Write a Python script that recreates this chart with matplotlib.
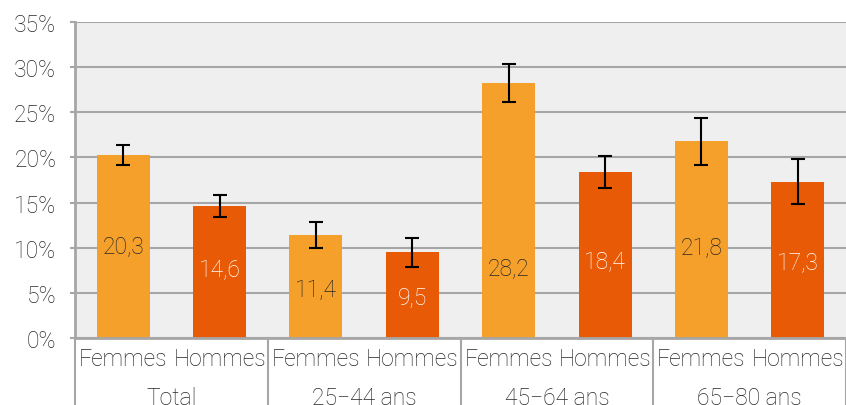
import matplotlib.pyplot as plt
import numpy as np

groups = ["Total", "25\u221244 ans", "45\u221264 ans", "65\u221280 ans"]
sexes = ["Femmes", "Hommes"]
femmes = [20.3, 11.4, 28.2, 21.8]
hommes = [14.6, 9.5, 18.4, 17.3]
femmes_err = [1.1, 1.4, 2.1, 2.6]
hommes_err = [1.2, 1.6, 1.75, 2.5]

plt.rcParams["font.family"] = ["Roboto", "DejaVu Sans"]
plt.rcParams["font.weight"] = "light"

c_f = "#F5A02A"
c_h = "#E85A05"
grey = "#A6A6A6"
txt = "#262626"
fs = 16.5

fig = plt.figure(figsize=(8.46, 4.06), dpi=100)
ax = fig.add_axes([75 / 846, 67 / 406, 771 / 846, 316 / 406])
ax.set_facecolor("#EFEFEF")

n = len(groups)
x_f = np.arange(n) * 2 + 0.5
x_h = np.arange(n) * 2 + 1.5
w = 0.55
ax.bar(x_f, femmes, w, color=c_f, zorder=2)
ax.bar(x_h, hommes, w, color=c_h, zorder=2)
ax.errorbar(x_f, femmes, yerr=femmes_err, fmt="none", ecolor="black",
            elinewidth=1.5, capsize=5, capthick=1.5, zorder=3)
ax.errorbar(x_h, hommes, yerr=hommes_err, fmt="none", ecolor="black",
            elinewidth=1.5, capsize=5, capthick=1.5, zorder=3)

# label heights as placed in the original chart
pos_f = [10.2, 5.4, 7.75, 10.0]
pos_h = [7.6, 4.6, 8.5, 8.4]
for i in range(n):
    ax.text(x_f[i], pos_f[i], f"{femmes[i]:.1f}".replace(".", ","),
            ha="center", va="center", color=txt, fontsize=fs, zorder=4)
    ax.text(x_h[i], pos_h[i], f"{hommes[i]:.1f}".replace(".", ","),
            ha="center", va="center", color="white", fontsize=fs, zorder=4)

ax.set_xlim(0, 2 * n)
ax.set_ylim(0, 35)
ax.set_yticks(np.arange(0, 36, 5))
ax.set_yticklabels([f"{v}%" for v in range(0, 36, 5)], fontsize=fs, color=txt)
ax.yaxis.grid(True, color=grey, linewidth=1.5, zorder=1)
ax.tick_params(axis="y", length=3.5, color=grey, width=1.5, pad=10)
ax.set_xticks([])
for s in ["top", "right"]:
    ax.spines[s].set_visible(False)
for s in ["left", "bottom"]:
    ax.spines[s].set_color(grey)
    ax.spines[s].set_linewidth(2)

for i in range(n):
    ax.text(x_f[i], -2.25, sexes[0], ha="center", va="center", fontsize=fs,
            color=txt, clip_on=False)
    ax.text(x_h[i], -2.25, sexes[1], ha="center", va="center", fontsize=fs,
            color=txt, clip_on=False)
    ax.text(2 * i + 1, -6.55, groups[i], ha="center", va="center", fontsize=fs,
            color=txt, clip_on=False)
for i in range(n + 1):
    ax.plot([2 * i, 2 * i], [0, -7.5], color=grey, linewidth=1.5,
            clip_on=False)

fig.savefig("out.png", dpi=100)
